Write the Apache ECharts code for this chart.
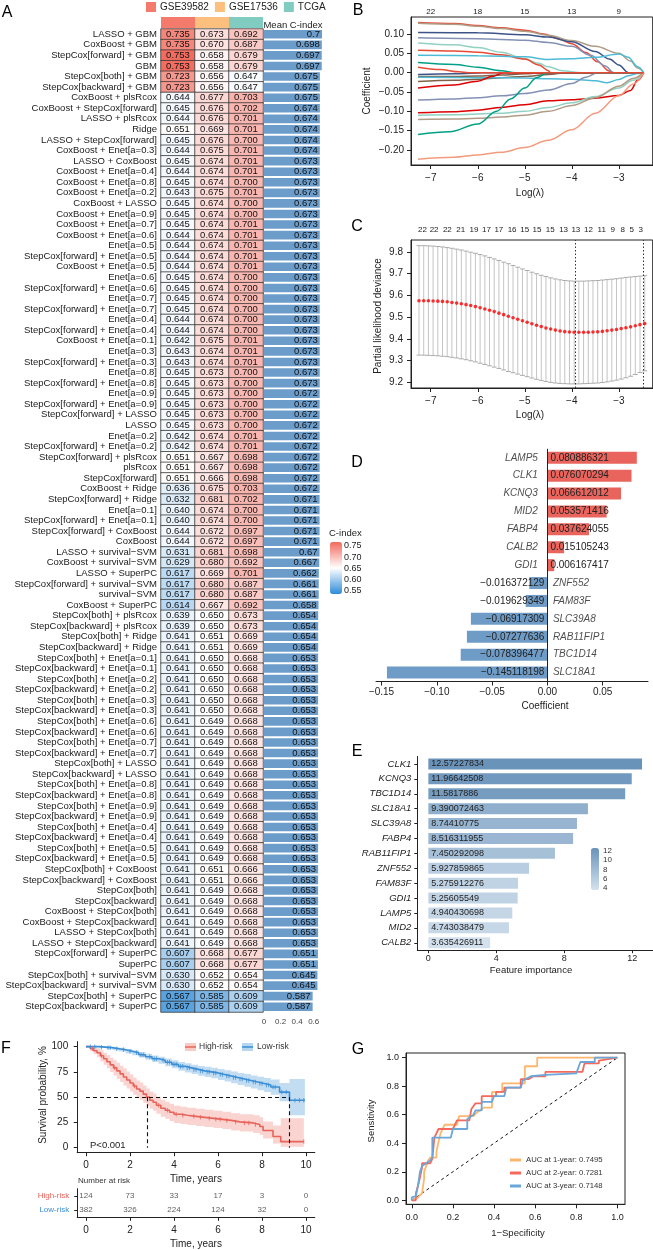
<!DOCTYPE html>
<html><head><meta charset="utf-8">
<script src="https://cdn.jsdelivr.net/npm/echarts@6/dist/echarts.min.js"></script>
<style>html,body{margin:0;padding:0;background:#fff}#c{width:653px;height:1250px}</style>
</head><body><div id="c"></div>
<script>
const F = '"Liberation Sans", Arial, Helvetica, sans-serif';
const minus = s => String(s).replace(/-/g, '\u2212');

// ---------- Panel A ----------
const cohortNames = ['GSE39582', 'GSE17536', 'TCGA'];
const modelNames = [
 'LASSO + GBM','CoxBoost + GBM','StepCox[forward] + GBM','GBM','StepCox[both] + GBM','StepCox[backward] + GBM',
 'CoxBoost + plsRcox','CoxBoost + StepCox[forward]','LASSO + plsRcox','Ridge','LASSO + StepCox[forward]','CoxBoost + Enet[a=0.3]',
 'LASSO + CoxBoost','CoxBoost + Enet[a=0.4]','CoxBoost + Enet[a=0.8]','CoxBoost + Enet[a=0.2]','CoxBoost + LASSO','CoxBoost + Enet[a=0.9]',
 'CoxBoost + Enet[a=0.7]','CoxBoost + Enet[a=0.6]','Enet[a=0.5]','StepCox[forward] + Enet[a=0.5]','CoxBoost + Enet[a=0.5]','Enet[a=0.6]',
 'StepCox[forward] + Enet[a=0.6]','Enet[a=0.7]','StepCox[forward] + Enet[a=0.7]','Enet[a=0.4]','StepCox[forward] + Enet[a=0.4]','CoxBoost + Enet[a=0.1]',
 'Enet[a=0.3]','StepCox[forward] + Enet[a=0.3]','Enet[a=0.8]','StepCox[forward] + Enet[a=0.8]','Enet[a=0.9]','StepCox[forward] + Enet[a=0.9]',
 'StepCox[forward] + LASSO','LASSO','Enet[a=0.2]','StepCox[forward] + Enet[a=0.2]','StepCox[forward] + plsRcox','plsRcox',
 'StepCox[forward]','CoxBoost + Ridge','StepCox[forward] + Ridge','Enet[a=0.1]','StepCox[forward] + Enet[a=0.1]','StepCox[forward] + CoxBoost',
 'CoxBoost','LASSO + survival\u2212SVM','CoxBoost + survival\u2212SVM','LASSO + SuperPC','StepCox[forward] + survival\u2212SVM','survival\u2212SVM',
 'CoxBoost + SuperPC','StepCox[both] + plsRcox','StepCox[backward] + plsRcox','StepCox[both] + Ridge','StepCox[backward] + Ridge','StepCox[both] + Enet[a=0.1]',
 'StepCox[backward] + Enet[a=0.1]','StepCox[both] + Enet[a=0.2]','StepCox[backward] + Enet[a=0.2]','StepCox[both] + Enet[a=0.3]','StepCox[backward] + Enet[a=0.3]','StepCox[both] + Enet[a=0.6]',
 'StepCox[backward] + Enet[a=0.6]','StepCox[both] + Enet[a=0.7]','StepCox[backward] + Enet[a=0.7]','StepCox[both] + LASSO','StepCox[backward] + LASSO','StepCox[both] + Enet[a=0.8]',
 'StepCox[backward] + Enet[a=0.8]','StepCox[both] + Enet[a=0.9]','StepCox[backward] + Enet[a=0.9]','StepCox[both] + Enet[a=0.4]','StepCox[backward] + Enet[a=0.4]','StepCox[both] + Enet[a=0.5]',
 'StepCox[backward] + Enet[a=0.5]','StepCox[both] + CoxBoost','StepCox[backward] + CoxBoost','StepCox[both]','StepCox[backward]','CoxBoost + StepCox[both]',
 'CoxBoost + StepCox[backward]','LASSO + StepCox[both]','LASSO + StepCox[backward]','StepCox[forward] + SuperPC','SuperPC','StepCox[both] + survival\u2212SVM',
 'StepCox[backward] + survival\u2212SVM','StepCox[both] + SuperPC','StepCox[backward] + SuperPC'
];
const cGSE39582 = [
 0.735,0.735,0.753,0.753,0.723,0.723, 0.644,0.645,0.644,0.651,0.645,0.644,
 0.645,0.644,0.645,0.643,0.645,0.645, 0.645,0.644,0.644,0.644,0.644,0.645,
 0.645,0.645,0.645,0.644,0.644,0.642, 0.643,0.643,0.645,0.645,0.645,0.645,
 0.645,0.645,0.642,0.642,0.651,0.651, 0.651,0.636,0.632,0.640,0.640,0.644,
 0.644,0.631,0.629,0.617,0.617,0.617, 0.614,0.639,0.639,0.641,0.641,0.641,
 0.641,0.641,0.641,0.641,0.641,0.641, 0.641,0.641,0.641,0.641,0.641,0.641,
 0.641,0.641,0.641,0.641,0.641,0.641, 0.641,0.641,0.641,0.641,0.641,0.641,
 0.641,0.641,0.641,0.607,0.607,0.630, 0.630,0.567,0.567
];
const cGSE17536 = [
 0.673,0.670,0.658,0.658,0.656,0.656, 0.677,0.676,0.676,0.669,0.676,0.675,
 0.674,0.674,0.674,0.675,0.674,0.674, 0.674,0.674,0.674,0.674,0.674,0.674,
 0.674,0.674,0.674,0.674,0.674,0.675, 0.674,0.674,0.673,0.673,0.673,0.673,
 0.673,0.673,0.674,0.674,0.667,0.667, 0.666,0.675,0.681,0.674,0.674,0.672,
 0.672,0.681,0.680,0.669,0.680,0.680, 0.667,0.650,0.650,0.651,0.651,0.650,
 0.650,0.650,0.650,0.650,0.650,0.649, 0.649,0.649,0.649,0.649,0.649,0.649,
 0.649,0.649,0.649,0.649,0.649,0.649, 0.649,0.651,0.651,0.649,0.649,0.649,
 0.649,0.649,0.649,0.668,0.668,0.652, 0.652,0.585,0.585
];
const cTCGA = [
 0.692,0.687,0.679,0.679,0.647,0.647, 0.703,0.702,0.701,0.701,0.700,0.701,
 0.701,0.701,0.700,0.701,0.700,0.700, 0.701,0.701,0.701,0.701,0.701,0.700,
 0.700,0.700,0.700,0.700,0.700,0.701, 0.701,0.701,0.700,0.700,0.700,0.700,
 0.700,0.700,0.701,0.701,0.698,0.698, 0.698,0.703,0.702,0.700,0.700,0.697,
 0.697,0.698,0.692,0.701,0.687,0.687, 0.692,0.673,0.673,0.669,0.669,0.668,
 0.668,0.668,0.668,0.668,0.668,0.668, 0.668,0.668,0.668,0.668,0.668,0.668,
 0.668,0.668,0.668,0.668,0.668,0.668, 0.668,0.666,0.666,0.668,0.668,0.668,
 0.668,0.668,0.668,0.677,0.677,0.654, 0.654,0.609,0.609
];
const meanCindex = [
 0.7,0.698,0.697,0.697,0.675,0.675, 0.675,0.674,0.674,0.674,0.674,0.674,
 0.673,0.673,0.673,0.673,0.673,0.673, 0.673,0.673,0.673,0.673,0.673,0.673,
 0.673,0.673,0.673,0.673,0.673,0.673, 0.673,0.673,0.673,0.673,0.672,0.672,
 0.672,0.672,0.672,0.672,0.672,0.672, 0.672,0.672,0.671,0.671,0.671,0.671,
 0.671,0.67,0.667,0.662,0.661,0.661, 0.658,0.654,0.654,0.654,0.654,0.653,
 0.653,0.653,0.653,0.653,0.653,0.653, 0.653,0.653,0.653,0.653,0.653,0.653,
 0.653,0.653,0.653,0.653,0.653,0.653, 0.653,0.653,0.653,0.653,0.653,0.653,
 0.653,0.653,0.653,0.651,0.651,0.645, 0.645,0.587,0.587
];
const meanTicks = [0, 0.2, 0.4, 0.6];
const cIndexTicks = [0.75, 0.70, 0.65, 0.60, 0.55];

// ---------- Panel B ----------
const bTopTicks = [-7, -6, -5, -4, -3];
const bTopLabels = ['22', '18', '15', '13', '9'];
const lassoColors = ['#E64B35','#B09C85','#3C5488','#8491B4','#91D1C2','#E64B35','#4DBBD5','#00A087','#3C5488','#7E6148',
 '#7E6148','#4DBBD5','#DC0000','#8491B4','#DC0000','#91D1C2','#B09C85','#00A087','#F39B7F','#E64B35'];
const lassoPaths = [
 [[-7.27,0.130],[-6.5,0.127],[-6,0.122],[-5.5,0.116],[-5,0.110],[-4.6,0.100],[-4.3,0.088],[-4,0.075],[-3.7,0.052],[-3.45,0.028],[-3.2,0.004],[-3.15,0],[-2.47,0]],
 [[-7.27,0.128],[-6.5,0.125],[-6,0.120],[-5.5,0.114],[-5,0.107],[-4.5,0.097],[-4,0.083],[-3.5,0.068],[-3,0.050],[-2.75,0.030],[-2.6,0.012],[-2.47,0]],
 [[-7.27,0.104],[-6,0.103],[-5,0.098],[-4.5,0.092],[-4,0.080],[-3.5,0.055],[-3.2,0.035],[-3,0.020],[-2.8,0],[-2.47,0]],
 [[-7.27,0.090],[-6,0.088],[-5,0.084],[-4.5,0.078],[-4,0.068],[-3.6,0.045],[-3.3,0.018],[-3.1,0],[-2.47,0]],
 [[-7.27,0.077],[-6.5,0.072],[-6,0.065],[-5.5,0.053],[-5,0.036],[-4.7,0.024],[-4.5,0.015],[-4.2,0.005],[-3.8,0],[-2.47,0]],
 [[-7.27,0.058],[-6.5,0.056],[-6,0.053],[-5.5,0.046],[-5,0.035],[-4.7,0.020],[-4.5,0.005],[-4.45,0],[-2.47,0]],
 [[-7.27,0.045],[-6,0.044],[-5,0.041],[-4.5,0.034],[-4,0.036],[-3.5,0.040],[-3,0.048],[-2.8,0.040],[-2.6,0.015],[-2.47,0]],
 [[-7.27,0.026],[-6.5,0.021],[-6,0.014],[-5.5,0.005],[-5.2,0],[-2.47,0]],
 [[-7.27,-0.005],[-6.5,-0.003],[-6,-0.001],[-5.9,0],[-2.47,0]],
 [[-7.27,-0.010],[-6.5,-0.010],[-6,-0.009],[-5.5,-0.006],[-5,-0.003],[-4.6,0],[-2.47,0]],
 [[-7.27,-0.023],[-6.5,-0.020],[-6,-0.017],[-5.5,-0.013],[-5,-0.010],[-4.5,-0.005],[-4.1,0],[-2.47,0]],
 [[-7.27,-0.012],[-6,-0.013],[-5,-0.014],[-4.5,-0.016],[-4,-0.017],[-3.5,-0.021],[-3.25,-0.026],[-3,-0.018],[-2.8,-0.008],[-2.6,-0.002],[-2.47,0]],
 [[-7.27,-0.040],[-6.5,-0.032],[-6,-0.022],[-5.7,-0.010],[-5.45,0],[-2.47,0]],
 [[-7.27,-0.071],[-6.5,-0.068],[-6,-0.065],[-5.5,-0.060],[-5,-0.054],[-4.5,-0.045],[-4,-0.028],[-3.7,-0.012],[-3.45,0],[-2.47,0]],
 [[-7.27,-0.104],[-6.5,-0.101],[-6,-0.097],[-5.5,-0.090],[-5,-0.083],[-4.5,-0.073],[-4,-0.070],[-3.5,-0.066],[-3,-0.059],[-2.75,-0.046],[-2.6,-0.020],[-2.47,0]],
 [[-7.27,-0.110],[-6.5,-0.109],[-6,-0.107],[-5.5,-0.105],[-5,-0.100],[-4.5,-0.090],[-4,-0.078],[-3.5,-0.062],[-3,-0.040],[-2.7,-0.020],[-2.47,0]],
 [[-7.27,-0.121],[-6.5,-0.120],[-6,-0.118],[-5.5,-0.115],[-5,-0.110],[-4.5,-0.100],[-4,-0.085],[-3.5,-0.065],[-3,-0.035],[-2.7,-0.015],[-2.47,0]],
 [[-7.27,-0.160],[-6.6,-0.153],[-6,-0.133],[-5.6,-0.100],[-5.3,-0.068],[-5,-0.040],[-4.75,-0.013],[-4.5,0],[-2.47,0]],
 [[-7.27,-0.224],[-6.5,-0.219],[-6,-0.213],[-5.5,-0.206],[-5,-0.194],[-4.5,-0.175],[-4,-0.148],[-3.5,-0.105],[-3,-0.060],[-2.7,-0.030],[-2.47,0]],
 [[-7.27,0.014],[-6.8,0.008],[-6.4,0.002],[-6.2,0],[-2.47,0]]
];

// ---------- Panel C ----------
const cvLogLambda = [-7.25,-7.15,-7.05,-6.95,-6.85,-6.75,-6.65,-6.55,-6.45,-6.35,-6.25,-6.15,-6.05,-5.95,-5.85,-5.75,-5.65,-5.55,-5.45,-5.35,-5.25,-5.15,-5.05,-4.95,-4.85,-4.75,-4.65,-4.55,-4.45,-4.35,-4.25,-4.15,-4.05,-3.95,-3.85,-3.75,-3.65,-3.55,-3.45,-3.35,-3.25,-3.15,-3.05,-2.95,-2.85,-2.75,-2.65,-2.55,-2.45];
const cvMean = [9.575,9.575,9.575,9.574,9.573,9.572,9.570,9.567,9.564,9.561,9.557,9.553,9.548,9.543,9.537,9.531,9.525,9.518,9.511,9.504,9.497,9.490,9.483,9.476,9.469,9.462,9.456,9.450,9.445,9.440,9.436,9.433,9.431,9.430,9.430,9.430,9.430,9.431,9.432,9.434,9.437,9.440,9.443,9.447,9.451,9.455,9.460,9.465,9.470];
const cvUpper = [9.828,9.828,9.827,9.826,9.824,9.822,9.819,9.816,9.812,9.808,9.803,9.798,9.793,9.787,9.781,9.774,9.767,9.760,9.752,9.745,9.737,9.729,9.721,9.714,9.706,9.699,9.692,9.686,9.680,9.675,9.671,9.668,9.666,9.665,9.665,9.665,9.666,9.667,9.668,9.670,9.672,9.674,9.676,9.679,9.682,9.684,9.686,9.688,9.690];
const cvLower = [9.325,9.325,9.324,9.323,9.322,9.320,9.318,9.315,9.312,9.308,9.304,9.299,9.294,9.288,9.282,9.276,9.270,9.264,9.257,9.250,9.244,9.238,9.232,9.226,9.220,9.214,9.209,9.204,9.200,9.197,9.195,9.194,9.193,9.193,9.193,9.194,9.195,9.196,9.197,9.199,9.202,9.206,9.210,9.215,9.221,9.228,9.236,9.245,9.253];
const lambdaMin = -3.92, lambda1se = -2.49;
const cTopPos = [-7.176,-6.929,-6.647,-6.364,-6.082,-5.814,-5.552,-5.270,-5.001,-4.740,-4.458,-4.175,-3.914,-3.646,-3.363,-3.130,-2.918,-2.727,-2.537];
const cTopLabels = ['22','22','22','21','19','17','17','16','15','15','15','13','13','12','11','9','8','5','3'];

// ---------- Panel D ----------
const dGenes = ['LAMP5','CLK1','KCNQ3','MID2','FABP4','CALB2','GDI1','ZNF552','FAM83F','SLC39A8','RAB11FIP1','TBC1D14','SLC18A1'];
const dCoef = [0.080886321,0.076070294,0.066612012,0.053571416,0.037624055,0.015105243,0.006167417,-0.016372129,-0.019629349,-0.06917309,-0.07277636,-0.078396477,-0.145118198];
const dTicks = [-0.15,-0.10,-0.05,0,0.05];

// ---------- Panel E ----------
const eGenes = ['CLK1','KCNQ3','TBC1D14','SLC18A1','SLC39A8','FABP4','RAB11FIP1','ZNF552','FAM83F','GDI1','LAMP5','MID2','CALB2'];
const eImportance = [12.57227834,11.96642508,11.5817886,9.390072463,8.74410775,8.516311955,7.450292098,5.927859865,5.275912276,5.25605549,4.940430698,4.743038479,3.635426911];
const eTicks = [0,4,8,12];
const eLegendTicks = [12,10,8,6,4];

// ---------- Panel F ----------
const highTimes = [0,0.2,0.35,0.5,0.65,0.8,0.95,1.1,1.25,1.4,1.55,1.7,1.85,2.0,2.15,2.3,2.45,2.6,2.75,2.9,3.05,3.2,3.4,3.6,3.8,4.0,4.3,4.6,5.0,5.4,5.8,6.2,6.6,7.0,7.6,7.9,8.05,8.5,8.85,9.9];
const highSurv = [100,98,96,94,91,88,85,82,79,76,73,70,67,64,61,58,56,53,50,47,45,42,39,37,35,33,32,31,30,29,28,27,25.5,24.5,23,21,17,11,6,6];
const highUpper = [100,100,99.5,98.5,96.5,94,91.5,89,86.5,84,81,78.5,75.5,72.5,69.5,66.5,64.5,61.5,58.5,55.5,53.5,50.5,47.5,45.5,43.5,41.5,40.5,39.5,38.5,37.5,36.5,35.5,34,33,32,30,26,22,29,29];
const highLower = [100,95.5,92.5,89.5,85.5,82,78.5,75,71.5,68,65,61.5,58.5,55.5,52.5,49.5,47.5,44.5,41.5,38.5,36.5,33.5,30.5,28.5,26.5,24.5,23.5,22.5,21.5,20.5,19.5,18.5,17,16,14.5,12.5,9,4,1,1];
const lowTimes = [0,0.6,0.9,1.2,1.5,1.8,2.1,2.4,2.7,3.0,3.3,3.6,3.9,4.2,4.5,4.8,5.1,5.4,5.7,6.0,6.3,6.6,6.9,7.2,7.5,7.8,8.1,8.4,8.8,9.25,9.95];
const lowSurv = [100,99.5,99,98,97,95.5,94,92,90,88,86.5,84.5,82.5,80.5,79,77.5,76,75,74,72.5,71,69.5,68,66.5,65,63.5,62,60,55,47,47];
const lowUpper = [100,100,100,99.5,98.8,97.7,96.5,94.8,93,91.3,90,88.3,86.5,84.8,83.5,82.2,80.9,80,79.2,77.9,76.6,75.3,74,72.8,71.5,70.2,69,67.5,64,68,68];
const lowLower = [100,98.8,98,96.5,95.2,93.3,91.5,89.2,87,84.7,83,80.7,78.5,76.2,74.5,72.8,71.1,70,68.8,67.1,65.4,63.7,62,60.2,58.5,56.8,55,52.5,46,32,32];
const highCensor = [0.3,0.7,1.3,2.2,3.3,3.7,4.1,4.4,4.9,5.2,5.6,5.9,6.1,6.4,6.8,7.2,7.4,7.7,9.9];
const lowCensor = [0.2,0.4,0.7,1.0,1.1,1.4,1.7,2.0,2.3,2.5,2.6,2.9,3.1,3.2,3.5,3.7,3.8,4.0,4.1,4.3,4.4,4.6,4.7,4.9,5.0,5.2,5.3,5.5,5.6,5.8,5.9,6.1,6.2,6.4,6.5,6.7,6.8,7.0,7.1,7.3,7.4,7.6,7.7,7.9,8.0,8.2,8.3,8.5,8.6,8.9,9.1,9.5,9.7,9.9];
const medianHigh = 2.8, medianLow = 9.25;
const riskTimes = [0,2,4,6,8,10];
const highAtRisk = [124,73,33,17,3,0];
const lowAtRisk = [382,326,224,124,32,0];
const survTicks = [0,25,50,75,100];
const timeTicks = [0,2,4,6,8,10];

// ---------- Panel G ----------
const rocNames = ['AUC at 1-year: 0.7495','AUC at 2-year: 0.7281','AUC at 3-year: 0.7148'];
const roc1 = [[0,0],[0.03,0.02],[0.05,0.05],[0.06,0.15],[0.06,0.2],[0.07,0.24],[0.08,0.28],[0.09,0.3],[0.12,0.3],[0.12,0.34],[0.13,0.41],[0.14,0.47],[0.16,0.53],[0.22,0.53],[0.23,0.59],[0.3,0.59],[0.32,0.62],[0.35,0.65],[0.39,0.65],[0.39,0.76],[0.44,0.76],[0.44,0.82],[0.55,0.82],[0.55,0.94],[0.61,0.94],[0.61,1.0],[0.9,1.0],[1,1]];
const roc2 = [[0,0],[0.02,0],[0.02,0.05],[0.03,0.1],[0.04,0.16],[0.05,0.23],[0.05,0.26],[0.09,0.26],[0.1,0.29],[0.11,0.44],[0.13,0.5],[0.2,0.5],[0.22,0.56],[0.28,0.56],[0.29,0.64],[0.31,0.68],[0.34,0.68],[0.34,0.73],[0.41,0.73],[0.41,0.76],[0.45,0.76],[0.45,0.79],[0.53,0.79],[0.53,0.85],[0.57,0.85],[0.59,0.87],[0.65,0.87],[0.65,0.9],[0.83,0.9],[0.84,0.96],[0.91,0.96],[0.91,0.98],[1,1]];
const roc3 = [[0,0],[0,0.02],[0.02,0.03],[0.03,0.1],[0.04,0.2],[0.05,0.24],[0.07,0.26],[0.09,0.28],[0.1,0.3],[0.1,0.44],[0.19,0.44],[0.2,0.5],[0.27,0.5],[0.27,0.57],[0.3,0.6],[0.31,0.63],[0.34,0.63],[0.34,0.69],[0.39,0.69],[0.4,0.73],[0.45,0.73],[0.46,0.79],[0.53,0.79],[0.54,0.84],[0.58,0.87],[0.65,0.88],[0.8,0.89],[0.81,0.93],[0.82,0.97],[0.89,0.97],[0.89,1.0],[1,1]];
const rocTicks = [0,0.2,0.4,0.6,0.8,1.0];

// =================== build ===================
const AX = '#222';
const cohortColors = ['#F47A6C', '#FDBF7E', '#80CCC0'];
const kmRed = '#E8635A', kmBlue = '#3B8ED6';
const rocColors = ['#FDB66E', '#F4695B', '#6AA6DA'];
const series = [];

// header strip (also drives legend)
cohortNames.forEach((n, i) => {
  series.push({type: 'bar', name: n, xAxisIndex: 0, yAxisIndex: 0, barWidth: '100%', barGap: '-100%', silent: true,
    data: cohortNames.map((_, j) => j === i ? 1 : '-'), itemStyle: {color: cohortColors[i]}});
});
// heatmap
const heatData = [];
const cohortVals = [cGSE39582, cGSE17536, cTCGA];
modelNames.forEach((m, r) => cohortVals.forEach((arr, c) => heatData.push([c, r, arr[r]])));
const heatIdx = series.length;
series.push({type: 'heatmap', xAxisIndex: 1, yAxisIndex: 1, data: heatData, silent: true,
  label: {show: true, fontSize: 9.5, fontFamily: F, color: '#111', formatter: p => p.value[2].toFixed(3)},
  itemStyle: {borderColor: '#3a3a3a', borderWidth: 0.8}});
// mean bars
series.push({type: 'bar', xAxisIndex: 2, yAxisIndex: 2, data: meanCindex, barWidth: 8.6, silent: true,
  itemStyle: {color: '#6C9DCA'},
  label: {show: true, position: 'insideRight', distance: 2, fontSize: 9.5, color: '#111', formatter: p => String(p.value)}});

// B lines
lassoPaths.forEach((pts, i) => series.push({type: 'line', xAxisIndex: 3, yAxisIndex: 3, data: pts, showSymbol: false, silent: true,
  smooth: 0.35, smoothMonotone: 'x', lineStyle: {width: 1.5, color: lassoColors[i]}}));

// C error bars
series.push({type: 'custom', xAxisIndex: 5, yAxisIndex: 4, silent: true,
  data: cvLogLambda.map((x, i) => [x, cvLower[i], cvUpper[i]]),
  encode: {x: 0, y: [1, 2]},
  renderItem: (params, api) => {
    const lo = api.coord([api.value(0), api.value(1)]);
    const hi = api.coord([api.value(0), api.value(2)]);
    const w = 2.4, st = {stroke: '#ABABAB', lineWidth: 1};
    return {type: 'group', children: [
      {type: 'line', shape: {x1: lo[0], y1: lo[1], x2: hi[0], y2: hi[1]}, style: {stroke: '#B5B5B5', lineWidth: 0.8}},
      {type: 'line', shape: {x1: lo[0] - w, y1: lo[1], x2: lo[0] + w, y2: lo[1]}, style: st},
      {type: 'line', shape: {x1: hi[0] - w, y1: hi[1], x2: hi[0] + w, y2: hi[1]}, style: st}]};
  }});
series.push({type: 'scatter', xAxisIndex: 5, yAxisIndex: 4, silent: true, symbolSize: 3.6,
  data: cvLogLambda.map((x, i) => [x, cvMean[i]]), itemStyle: {color: '#FF0000'}, z: 5,
  markLine: {silent: true, symbol: 'none', label: {show: false}, lineStyle: {type: [1.5, 2], color: '#333', width: 1},
    data: [{xAxis: lambdaMin}, {xAxis: lambda1se}]}});

// D bars
series.push({type: 'bar', xAxisIndex: 7, yAxisIndex: 5, barWidth: 12, silent: true,
  data: dCoef.map(v => ({value: v, itemStyle: {color: v > 0 ? '#E8645C' : '#6F9CC7'},
    label: {position: v > 0 ? 'insideLeft' : 'insideRight'}})),
  label: {show: true, distance: 3, fontSize: 10, color: '#222', formatter: p => minus(p.value)},
  markLine: {silent: true, symbol: 'none', label: {show: false}, lineStyle: {type: 'solid', color: AX, width: 1},
    data: [{xAxis: 0}]}});
// D gene names at the zero line
series.push({type: 'scatter', xAxisIndex: 7, yAxisIndex: 5, silent: true, symbolSize: 1, itemStyle: {color: 'rgba(0,0,0,0)'},
  data: dGenes.map((gname, i) => ({value: [0, gname], label: {position: dCoef[i] > 0 ? 'left' : 'right', distance: dCoef[i] > 0 ? 9 : 5}})),
  label: {show: true, fontStyle: 'italic', fontSize: 10, color: '#222', formatter: p => p.value[1]}});

// E bars
const eIdx = series.length;
series.push({type: 'bar', xAxisIndex: 8, yAxisIndex: 6, barWidth: 11, silent: true,
  data: eGenes.map((gname, i) => [eImportance[i], gname]), encode: {x: 0, y: 1},
  label: {show: true, position: 'insideLeft', distance: 3, fontSize: 9, color: '#222', formatter: p => String(p.value[0])}});

// F confidence bands (step polygons drawn through the axes)
const bandSeries = (times, lo, up, color) => series.push({type: 'custom', xAxisIndex: 9, yAxisIndex: 7, silent: true, z: 1,
  data: [[times[0], up[0]]], encode: {x: 0, y: 1},
  renderItem: (params, api) => {
    const pts = [];
    const n = times.length;
    for (let i = 0; i < n; i++) {
      const t1 = i + 1 < n ? times[i + 1] : times[i];
      pts.push(api.coord([times[i], up[i]]));
      pts.push(api.coord([t1, up[i]]));
    }
    for (let i = n - 1; i >= 0; i--) {
      const t1 = i + 1 < n ? times[i + 1] : times[i];
      pts.push(api.coord([t1, lo[i]]));
      pts.push(api.coord([times[i], lo[i]]));
    }
    return {type: 'polygon', shape: {points: pts}, style: {fill: color}};
  }});
bandSeries(highTimes, highLower, highUpper, 'rgba(240,125,115,0.33)');
bandSeries(lowTimes, lowLower, lowUpper, 'rgba(95,165,222,0.38)');
const survAt = (times, surv, t) => { let s = surv[0]; for (let i = 0; i < times.length; i++) if (times[i] <= t) s = surv[i]; return s; };
series.push({type: 'line', xAxisIndex: 9, yAxisIndex: 7, step: 'end', showSymbol: false, silent: true,
  data: highTimes.map((t, i) => [t, highSurv[i]]), lineStyle: {color: kmRed, width: 1.6}, z: 4});
series.push({type: 'line', xAxisIndex: 9, yAxisIndex: 7, step: 'end', showSymbol: false, silent: true,
  data: lowTimes.map((t, i) => [t, lowSurv[i]]), lineStyle: {color: kmBlue, width: 1.6}, z: 4,
  markLine: {silent: true, symbol: 'none', label: {show: false}, lineStyle: {type: [4, 3], color: '#111', width: 1.1},
    data: [[{coord: [0, 50]}, {coord: [medianLow, 50]}],
           [{coord: [medianHigh, 50]}, {coord: [medianHigh, 0]}],
           [{coord: [medianLow, 50]}, {coord: [medianLow, 0]}]]}});
series.push({type: 'scatter', xAxisIndex: 9, yAxisIndex: 7, silent: true, symbol: 'rect', symbolSize: [1, 4.5], z: 5,
  data: highCensor.map(t => [t, survAt(highTimes, highSurv, t)]), itemStyle: {color: kmRed}});
series.push({type: 'scatter', xAxisIndex: 9, yAxisIndex: 7, silent: true, symbol: 'rect', symbolSize: [1, 4.5], z: 5,
  data: lowCensor.map(t => [t, survAt(lowTimes, lowSurv, t)]), itemStyle: {color: kmBlue}});
// risk table
const riskData = [];
riskTimes.forEach((t, i) => { riskData.push([t, 'High-risk', highAtRisk[i]]); riskData.push([t, 'Low-risk', lowAtRisk[i]]); });
series.push({type: 'scatter', xAxisIndex: 10, yAxisIndex: 8, silent: true, symbolSize: 1, itemStyle: {color: 'rgba(0,0,0,0)'},
  data: riskData, label: {show: true, position: 'inside', fontSize: 8, color: '#333', formatter: p => String(p.value[2])}});

// G
series.push({type: 'line', xAxisIndex: 11, yAxisIndex: 9, silent: true, showSymbol: false,
  data: [[0, 0], [1, 1]], lineStyle: {color: '#111', width: 1, type: [3, 3]}});
[roc1, roc2, roc3].forEach((d, i) => series.push({type: 'line', name: rocNames[i], xAxisIndex: 11, yAxisIndex: 9, silent: true,
  showSymbol: false, data: d, lineStyle: {color: rocColors[i], width: 1.8}, itemStyle: {color: rocColors[i]}}));

// ------------ axes ------------
const tickCfg = (vals, len) => ({show: true, length: len, customValues: vals, lineStyle: {color: AX, width: 1}});
const lblCfg = (vals, fmt, size, margin, extra) => Object.assign({customValues: vals, formatter: fmt, fontSize: size, color: AX, margin}, extra || {});
const lineCfg = {show: true, onZero: false, lineStyle: {color: AX}};

const xAxis = [
  {gridIndex: 0, type: 'category', data: cohortNames, show: false},
  {gridIndex: 1, type: 'category', data: cohortNames, show: false},
  {gridIndex: 2, type: 'value', min: 0, max: 0.7, axisLine: {show: false}, axisTick: {show: false}, splitLine: {show: false},
    axisLabel: lblCfg(meanTicks, v => v === 0 ? '0' : v.toFixed(1), 8, 6, {color: '#444'})},
  {gridIndex: 3, type: 'value', min: -7.42, max: -2.28, splitLine: {show: false}, axisLine: lineCfg,
    axisTick: tickCfg(bTopTicks, 4), axisLabel: lblCfg(bTopTicks, v => minus(v), 10, 8)},
  {gridIndex: 3, type: 'value', position: 'top', min: -7.42, max: -2.28, splitLine: {show: false}, axisLine: {show: false},
    axisTick: {show: false}, axisLabel: lblCfg(bTopTicks, v => bTopLabels[bTopTicks.indexOf(Math.round(v))], 8, 1)},
  {gridIndex: 4, type: 'value', min: -7.42, max: -2.28, splitLine: {show: false}, axisLine: lineCfg,
    axisTick: tickCfg(bTopTicks, 4), axisLabel: lblCfg(bTopTicks, v => minus(v), 10, 8)},
  {gridIndex: 4, type: 'value', position: 'top', min: -7.42, max: -2.28, splitLine: {show: false}, axisLine: {show: false},
    axisTick: {show: false}, axisLabel: lblCfg(cTopPos, v => { const i = cTopPos.findIndex(p => Math.abs(p - v) < 1e-6); return i < 0 ? '' : cTopLabels[i]; }, 8, 6)},
  {gridIndex: 5, type: 'value', min: -0.155, max: 0.091, scale: true, splitLine: {show: false}, axisLine: lineCfg,
    axisTick: tickCfg(dTicks, 4), axisLabel: lblCfg(dTicks, v => minus(v.toFixed(2)), 10, 6)},
  {gridIndex: 6, type: 'value', min: -0.65, max: 13.2, splitLine: {show: false}, axisLine: lineCfg,
    axisTick: tickCfg(eTicks, 3), axisLabel: lblCfg(eTicks, v => String(v), 9, 4)},
  {gridIndex: 7, type: 'value', min: -0.4, max: 10.4, splitLine: {show: false}, axisLine: lineCfg,
    axisTick: tickCfg(timeTicks, 3.5), axisLabel: lblCfg(timeTicks, v => String(v), 10, 8)},
  {gridIndex: 8, type: 'value', min: -0.4, max: 10.4, splitLine: {show: false}, axisLine: lineCfg,
    axisTick: tickCfg(timeTicks, 3.5), axisLabel: lblCfg(timeTicks, v => String(v), 10, 8)},
  {gridIndex: 9, type: 'value', min: -0.028, max: 1.037, splitLine: {show: false}, axisLine: lineCfg,
    axisTick: tickCfg(rocTicks, 4), axisLabel: lblCfg(rocTicks, v => v.toFixed(1), 9, 9)}
];
const yAxis = [
  {gridIndex: 0, type: 'value', min: 0, max: 1, show: false},
  {gridIndex: 1, type: 'category', data: modelNames, inverse: true, axisLine: {show: false}, axisTick: {show: false},
    axisLabel: {fontSize: 9.5, color: '#1a1a1a', margin: 4, interval: 0}},
  {gridIndex: 2, type: 'category', data: modelNames, inverse: true, show: false},
  {gridIndex: 3, type: 'value', min: -0.239, max: 0.144, splitLine: {show: false}, axisLine: lineCfg,
    axisTick: tickCfg([-0.2,-0.15,-0.1,-0.05,0,0.05,0.1], 4),
    axisLabel: lblCfg([-0.2,-0.15,-0.1,-0.05,0,0.05,0.1], v => minus(v.toFixed(2)), 10, 7)},
  {gridIndex: 4, type: 'value', min: 9.174, max: 9.854, splitLine: {show: false}, axisLine: lineCfg,
    axisTick: tickCfg([9.2,9.3,9.4,9.5,9.6,9.7,9.8], 4),
    axisLabel: lblCfg([9.2,9.3,9.4,9.5,9.6,9.7,9.8], v => v.toFixed(1), 10, 8)},
  {gridIndex: 5, type: 'category', data: dGenes, inverse: true, axisLine: {show: false}, axisTick: {show: false}, axisLabel: {show: false}},
  {gridIndex: 6, type: 'category', data: eGenes, inverse: true, axisLine: lineCfg,
    axisTick: {show: true, length: 3, alignWithLabel: true, lineStyle: {color: AX}},
    axisLabel: {interval: 0, fontStyle: 'italic', fontSize: 9.5, color: '#222', margin: 6}},
  {gridIndex: 7, type: 'value', min: -5, max: 105, splitLine: {show: false}, axisLine: lineCfg,
    axisTick: tickCfg(survTicks, 3.5), axisLabel: lblCfg(survTicks, v => String(v), 10, 9)},
  {gridIndex: 8, type: 'category', data: ['High-risk', 'Low-risk'], inverse: true, axisLine: lineCfg,
    axisTick: {show: true, length: 3, alignWithLabel: true, lineStyle: {color: AX}},
    axisLabel: {interval: 0, margin: 8, formatter: v => v === 'High-risk' ? '{h|High-risk}' : '{l|Low-risk}',
      rich: {h: {color: kmRed, fontSize: 8}, l: {color: kmBlue, fontSize: 8}}}},
  {gridIndex: 9, type: 'value', min: -0.028, max: 1.033, splitLine: {show: false}, axisLine: lineCfg,
    axisTick: tickCfg(rocTicks, 4), axisLabel: lblCfg(rocTicks, v => v.toFixed(1), 9, 7)}
];

const boxed = {show: true, borderColor: '#222', borderWidth: 1, backgroundColor: 'transparent'};
const grid = [
  {left: 161, top: 17, width: 102, height: 11},
  {left: 161, top: 29, width: 102, height: 983},
  {left: 264, top: 29, width: 58, height: 983},
  Object.assign({left: 411, top: 17, width: 241.7, height: 148}, boxed),
  Object.assign({left: 411, top: 240, width: 241.7, height: 148}, boxed),
  {left: 376, top: 448.8, width: 272, height: 232.7},
  {left: 417.3, top: 756.5, width: 235.4, height: 193.7},
  {left: 77.2, top: 1041.6, width: 237.6, height: 111.1},
  {left: 77.2, top: 1188.7, width: 237.6, height: 28.6},
  Object.assign({left: 406, top: 1053, width: 219, height: 151.3}, boxed)
];

// ------------ graphic text ------------
const T = (text, x, y, o = {}) => ({type: 'text', x, y, rotation: o.rot || 0, silent: true,
  style: {text, fontSize: o.size || 10, fontFamily: F, fill: o.color || '#222', align: o.align || 'center',
    verticalAlign: 'middle', fontStyle: o.italic ? 'italic' : 'normal'}});
const g = [];
[['A', 7, 13], ['B', 358, 11], ['C', 357, 227], ['D', 357, 463], ['E', 357, 752], ['F', 6, 1049], ['G', 358, 1050]]
  .forEach(([l, x, y]) => g.push(T(l, x, y, {size: 16, color: '#000'})));
g.push(T('Mean C-index', 293, 25, {size: 9.5}));
g.push(T('C-index', 329, 533, {size: 9.5, align: 'left'}));
cIndexTicks.forEach(v => g.push(T(v.toFixed(2), 344, 546 + (0.75 - v) / 0.2 * 45, {size: 9, align: 'left'})));
eLegendTicks.forEach(v => g.push(T(String(v), 603, 848 + (12.58 - v) / (12.58 - 3.63) * 42, {size: 8, align: 'left', color: '#333'})));
g.push(T('Coefficient', 367, 91, {rot: Math.PI / 2}));
g.push(T('Log(\u03bb)', 530, 193));
g.push(T('Partial likelihood deviance', 378, 316, {rot: Math.PI / 2}));
g.push(T('Log(\u03bb)', 530, 415));
g.push(T('Coefficient', 545, 706));
g.push(T('Feature importance', 531, 970, {size: 9.5}));
g.push(T('Survival probability, %', 43, 1095, {rot: Math.PI / 2}));
g.push(T('Time, years', 196, 1179));
g.push(T('Number at risk', 78, 1181, {size: 8, align: 'left', color: '#333'}));
g.push(T('Time, years', 196, 1244));
g.push(T('P<0.001', 90, 1145, {size: 9.5, align: 'left'}));
g.push(T('Sensitivity', 371, 1121, {size: 9.5, rot: Math.PI / 2}));
g.push(T('1\u2212Specificity', 518, 1233, {size: 9.5}));
// F legend
g.push({type: 'rect', shape: {x: 185, y: 1043, width: 11, height: 8}, style: {fill: 'rgba(240,125,115,0.4)'}, silent: true});
g.push({type: 'line', shape: {x1: 185, y1: 1047, x2: 196, y2: 1047}, style: {stroke: kmRed, lineWidth: 1.5}, silent: true});
g.push(T('High-risk', 199, 1047, {size: 8.5, align: 'left', color: '#333'}));
g.push({type: 'rect', shape: {x: 242, y: 1043, width: 11, height: 8}, style: {fill: 'rgba(95,165,222,0.45)'}, silent: true});
g.push({type: 'line', shape: {x1: 242, y1: 1047, x2: 253, y2: 1047}, style: {stroke: kmBlue, lineWidth: 1.5}, silent: true});
g.push(T('Low-risk', 257, 1047, {size: 8.5, align: 'left', color: '#333'}));

const option = {
  animation: false,
  textStyle: {fontFamily: F},
  grid, xAxis, yAxis, series,
  legend: [
    {data: cohortNames, left: 146, top: 2, itemWidth: 10, itemHeight: 10, itemGap: 6, icon: 'rect', padding: 0,
      textStyle: {fontSize: 10, color: '#222', padding: [0, 0, 0, -1]}, selectedMode: false},
    {data: rocNames, orient: 'vertical', left: 510, top: 1156, itemWidth: 11, itemHeight: 3, itemGap: 5, icon: 'rect', padding: 0,
      textStyle: {fontSize: 7.7, color: '#333'}, selectedMode: false}
  ],
  visualMap: [
    {type: 'continuous', seriesIndex: heatIdx, dimension: 2, min: 0.545, max: 0.755, left: 330, top: 542, itemWidth: 12, itemHeight: 52,
      calculable: false, padding: 0, inRange: {color: ['#2E8BD9', '#FFFFFF', '#F2695C']}},
    {type: 'continuous', seriesIndex: eIdx, dimension: 0, min: 3.63, max: 12.58, left: 591, top: 848, itemWidth: 8, itemHeight: 42,
      calculable: false, padding: 0, inRange: {color: ['#D3E1EE', '#6A93BA']}}
  ],
  graphic: {elements: g}
};
const chart = echarts.init(document.getElementById('c'), null, {renderer: 'canvas'});
chart.setOption(option);
</script></body></html>
